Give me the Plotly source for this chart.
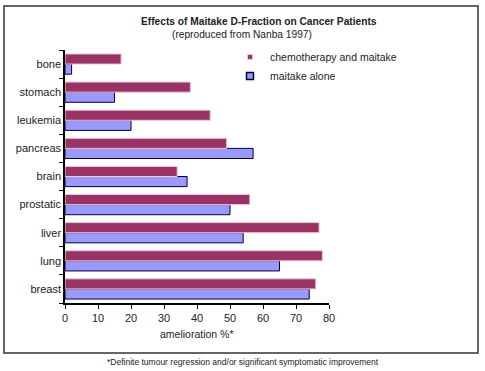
import plotly.graph_objects as go

categories = ["breast", "lung", "liver", "prostatic", "brain", "pancreas", "leukemia", "stomach", "bone"]
chemo_and_maitake = [76, 78, 77, 56, 34, 49, 44, 38, 17]
maitake_alone = [74, 65, 54, 50, 37, 57, 20, 15, 2]
x_ticks = [0, 10, 20, 30, 40, 50, 60, 70, 80]

FONT = "Liberation Sans, Arial, sans-serif"

fig = go.Figure()
fig.add_trace(go.Bar(
    y=categories, x=maitake_alone, orientation="h", name="maitake alone",
    marker=dict(color="#9999FF", line=dict(color="#000033", width=1)), showlegend=False,
))
fig.add_trace(go.Bar(
    y=categories, x=chemo_and_maitake, orientation="h", name="chemotherapy and maitake",
    marker=dict(color="#993366", line=dict(color="#F2C8D8", width=1)), showlegend=False,
))
# legend-only entries with small square swatches
fig.add_trace(go.Scatter(x=[None], y=[None], mode="markers", name="maitake alone",
                         marker=dict(symbol="square", size=7, color="#9999FF",
                                     line=dict(color="#000033", width=1.5))))
fig.add_trace(go.Scatter(x=[None], y=[None], mode="markers", name="chemotherapy and maitake",
                         marker=dict(symbol="square", size=5, color="#993366",
                                     line=dict(color="#F2C8D8", width=1))))

fig.update_layout(
    width=485, height=371,
    margin=dict(l=65, r=156, t=50, b=68, autoexpand=False),
    paper_bgcolor="white", plot_bgcolor="white",
    barmode="group", bargap=0.28, bargroupgap=0.0,
    font=dict(family=FONT, size=11, color="#222"),
    showlegend=True,
    legend=dict(x=0.625, y=1.03, xref="paper", yref="paper", xanchor="left", yanchor="top",
                traceorder="reversed", font=dict(size=10.5, color="#222"),
                bgcolor="rgba(0,0,0,0)", itemwidth=30, tracegroupgap=0),
    xaxis=dict(range=[0, 80], tickvals=x_ticks, showgrid=False, zeroline=False,
               showline=True, linecolor="black", linewidth=1.5,
               ticks="outside", ticklen=4, tickcolor="black",
               tickfont=dict(size=11, color="#222")),
    yaxis=dict(showgrid=False, showline=True, linecolor="black", linewidth=1.5,
               ticks="outside", ticklen=4, tickcolor="black", tickson="boundaries",
               tickfont=dict(size=11, color="#222")),
)

ann = [
    dict(text="<b>Effects of Maitake D-Fraction on Cancer Patients</b>", px=259, py=22, size=10.2),
    dict(text="(reproduced from Nanba 1997)", px=242, py=35, size=10.2),
    dict(text="amelioration %*", px=197, py=334, size=10.5),
    dict(text="*Definite tumour regression and/or significant symptomatic improvement", px=243, py=362, size=8.5),
]
for a in ann:
    fig.add_annotation(text=a["text"], x=(a["px"] - 65) / 264, y=(303 - a["py"]) / 253,
                       xref="paper", yref="paper", showarrow=False,
                       xanchor="center", yanchor="middle",
                       font=dict(size=a["size"], color="#222", family=FONT))

fig.add_shape(type="rect", xref="paper", yref="paper",
              x0=(4 - 65) / 264, x1=(478 - 65) / 264,
              y0=(303 - 353) / 253, y1=(303 - 6) / 253,
              line=dict(color="#333", width=1.5), fillcolor="rgba(0,0,0,0)", layer="below")

fig.write_html("out.html", config={"displayModeBar": False},
               post_script="document.body.style.margin='0';document.body.style.overflow='hidden';")
